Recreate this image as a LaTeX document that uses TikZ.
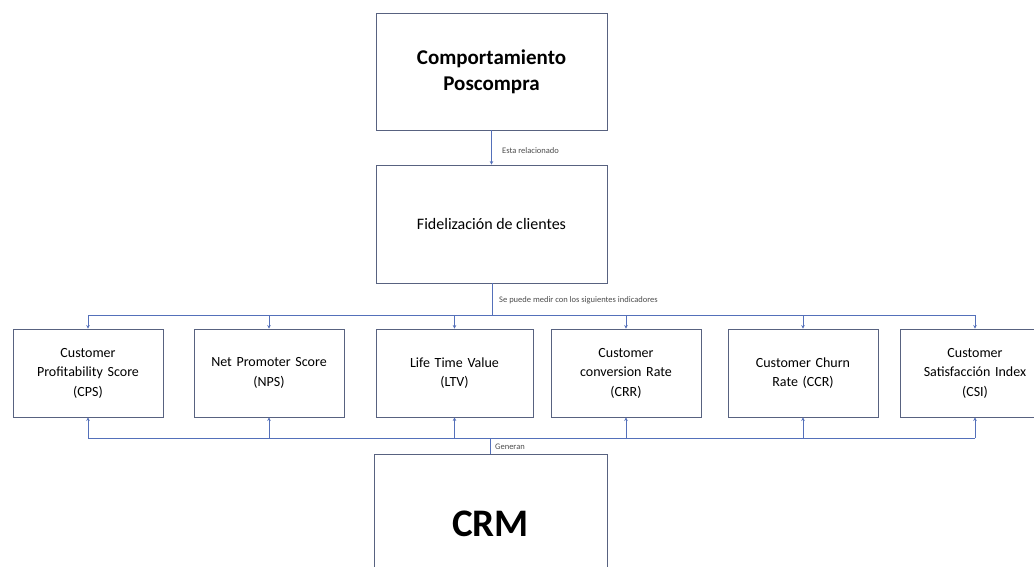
\documentclass[tikz,border=0pt]{standalone}
\usepackage{fontspec}
\setmainfont{Carlito}
\usetikzlibrary{arrows.meta}

\definecolor{boxline}{RGB}{88,98,128}
\definecolor{conline}{RGB}{84,112,186}

\tikzset{
  box/.style={draw=boxline, line width=0.9pt, fill=white, align=center, inner sep=2pt},
  kpi/.style={box, minimum height=88pt, text width=146pt,
    font=\fontsize{14}{19.5}\selectfont},
  link/.style={draw=conline, line width=0.7pt},
  linkarrow/.style={link, -{Stealth[length=3.5pt,width=3.5pt]}},
  tag/.style={anchor=west, inner sep=1pt, font=\fontsize{8.5}{9}\selectfont, text=black!70}
}

\begin{document}
\begin{tikzpicture}[x=1pt,y=-1pt]

\useasboundingbox (0,0) rectangle (1034,567);
\clip (0,0) rectangle (1034,567);

\node[box, minimum width=231pt, minimum height=117pt,
  font=\fontsize{21}{26}\selectfont\bfseries] (comp) at (491.5,71.5) {Comportamiento\\Poscompra};
\node[box, minimum width=231pt, minimum height=118pt,
  font=\fontsize{16}{18}\selectfont] (fid) at (491.5,224) {Fidelización de clientes};

\node[kpi, minimum width=150pt] (c1) at (88,373) {Customer\\Profitability Score\\(CPS)};
\node[kpi, minimum width=148pt] (c2) at (269,373) {Net Promoter Score\\(NPS)};
\node[kpi, minimum width=157pt] (c3) at (454.5,373) {Life Time Value\\(LTV)};
\node[kpi, minimum width=148pt] (c4) at (626,373) {Customer\\conversion Rate\\(CRR)};
\node[kpi, minimum width=150pt] (c5) at (803,373) {Customer Churn\\Rate (CCR)};
\node[kpi, minimum width=150pt] (c6) at (975,373) {Customer\\Satisfacción Index\\(CSI)};

\node[box, minimum width=233pt, minimum height=140pt,
  font=\fontsize{39}{44}\selectfont\bfseries] (crm) at (490.5,524) {CRM};

\coordinate (top) at (492,315);
\coordinate (bottom) at (490,438);

\draw[linkarrow] (comp) -- (fid);
\node[tag] (t1) at (501,151) {Esta relacionado};

\draw[link] (fid.south -| top) -- (top);
\draw[link] (top -| c1) -- (top -| c6);
\node[tag] (t2) at (498,300) {Se puede medir con los siguientes indicadores};

\foreach \c in {c1,c2,c3,c4,c5,c6}{
  \draw[linkarrow] (top -| \c) -- (\c.north);
  \draw[linkarrow] (bottom -| \c) -- (\c.south);
}

\draw[link] (crm.north -| bottom) -- (bottom);
\draw[link] (bottom -| c1) -- (bottom -| c6);
\node[tag] (t3) at (494,447) {Generan};

\end{tikzpicture}
\end{document}
